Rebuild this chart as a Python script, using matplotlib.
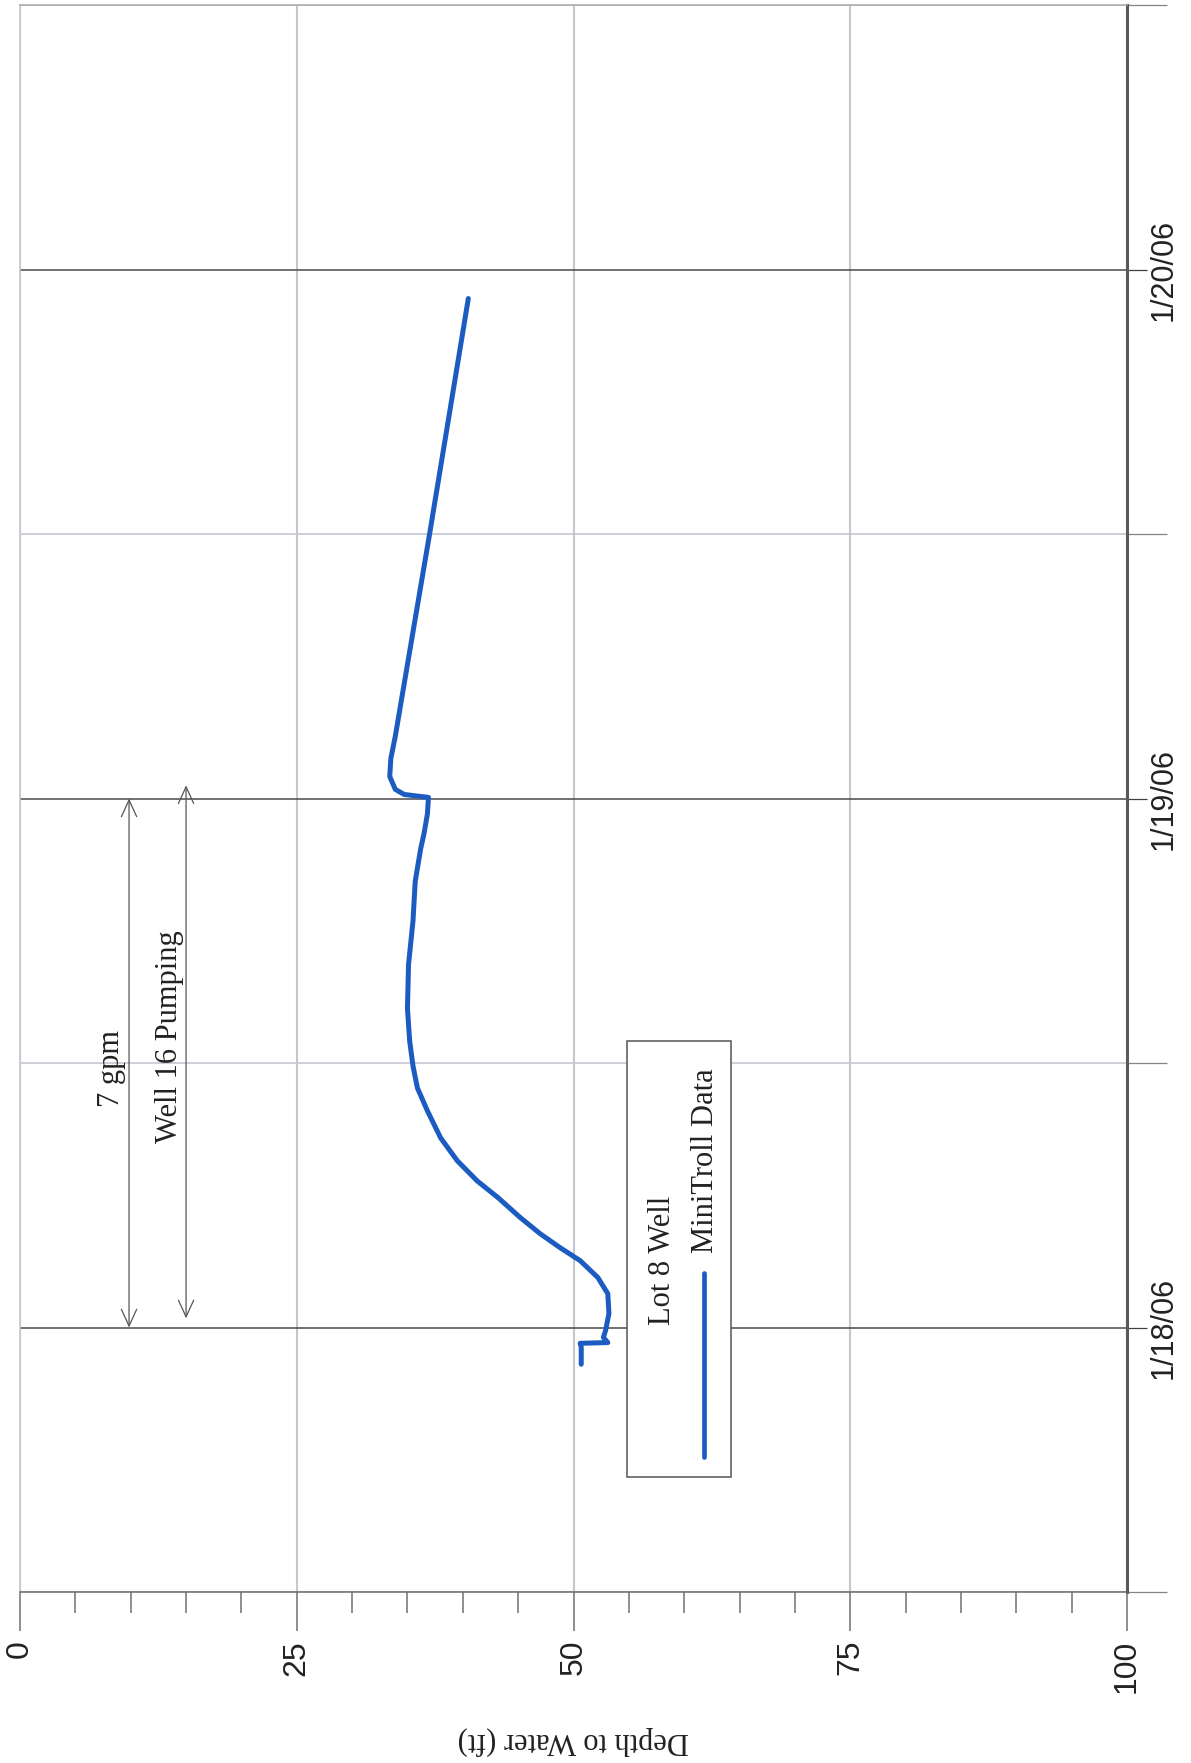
import matplotlib
matplotlib.use("Agg")
import matplotlib.pyplot as plt
import matplotlib.dates as mdates
from matplotlib.patches import Rectangle
from matplotlib.lines import Line2D
from matplotlib.ticker import FixedLocator, MultipleLocator
import pandas as pd

# MiniTroll pressure-transducer record, Lot 8 well
times = [
    "2006-01-17 22:20", "2006-01-17 23:06", "2006-01-17 23:17", "2006-01-17 23:19",
    "2006-01-17 23:33", "2006-01-17 23:52", "2006-01-18 00:38", "2006-01-18 01:32",
    "2006-01-18 02:16", "2006-01-18 03:02", "2006-01-18 03:37", "2006-01-18 04:15",
    "2006-01-18 04:59", "2006-01-18 05:53", "2006-01-18 06:39", "2006-01-18 07:34",
    "2006-01-18 08:36", "2006-01-18 09:50", "2006-01-18 10:52", "2006-01-18 11:52",
    "2006-01-18 13:00", "2006-01-18 14:29", "2006-01-18 16:29", "2006-01-18 18:26",
    "2006-01-18 20:14", "2006-01-18 21:44", "2006-01-18 22:25", "2006-01-18 23:17",
    "2006-01-19 00:03", "2006-01-19 00:11", "2006-01-19 00:25", "2006-01-19 01:00",
    "2006-01-19 01:49", "2006-01-19 02:49", "2006-01-19 06:58", "2006-01-19 12:00",
    "2006-01-19 22:41",
]
depth_ft = [
    50.7, 50.7, 50.6, 53.1,
    52.7, 52.9, 53.2, 53.1,
    52.2, 50.6, 48.8, 47.0,
    45.2, 43.2, 41.3, 39.5,
    38.0, 36.8, 35.9, 35.5,
    35.2, 35.0, 35.1, 35.5,
    35.7, 36.2, 36.5, 36.8,
    36.9, 34.7, 33.9, 33.4,
    33.5, 33.9, 35.3, 37.0,
    40.5,
]

depth_range = (0, 100)
depth_major = [0, 25, 50, 75, 100]
date_range = ("2006-01-17 12:00", "2006-01-20 12:00")
day_ticks = ["2006-01-18", "2006-01-19", "2006-01-20"]
day_labels = ["1/18/06", "1/19/06", "1/20/06"]
half_day_ticks = ["2006-01-17 12:00", "2006-01-18 12:00",
                  "2006-01-19 12:00", "2006-01-20 12:00"]

# pumping-period annotations: (depth position, start, end)
rate_span = (9.85, "2006-01-18 00:00", "2006-01-19 00:00")
pump_span = (15.0, "2006-01-18 00:25", "2006-01-19 00:36")

SERIF = ["Liberation Serif", "DejaVu Serif"]
SANS = ["Liberation Sans", "DejaVu Sans"]
NARROW = ["Liberation Sans Narrow", "Liberation Sans", "DejaVu Sans"]
BLUE = "#1c5cc2"
LIGHT = "#c3c7cf"
DARK = "#4a4a4a"


def dnum(s):
    return mdates.date2num(pd.Timestamp(s))


t = [dnum(s) for s in times]

fig = plt.figure(figsize=(11.91, 17.63), dpi=100)
ax = fig.add_axes([20 / 1191, 1 - 1592 / 1763, 1107 / 1191, 1587 / 1763])

ax.plot(depth_ft, t, color=BLUE, lw=3.6, solid_joinstyle="round",
        solid_capstyle="round", zorder=3)

ax.set_xlim(*depth_range)
ax.set_ylim(dnum(date_range[0]), dnum(date_range[1]))

# depth axis along the bottom
ax.xaxis.set_major_locator(FixedLocator(depth_major))
ax.xaxis.set_minor_locator(MultipleLocator(5))
ax.set_xticklabels([str(v) for v in depth_major], rotation=90,
                   fontsize=23, family=SANS, color="#222222")
ax.tick_params(axis="x", which="major", direction="out", length=28,
               width=1.1, color="#707070", pad=6.5)
ax.tick_params(axis="x", which="minor", direction="out", length=15,
               width=1.1, color="#707070")

# date axis along the right side
ax.yaxis.tick_right()
ax.yaxis.set_major_locator(FixedLocator([dnum(d) for d in day_ticks]))
ax.yaxis.set_minor_locator(FixedLocator([dnum(d) for d in half_day_ticks]))
ax.set_yticklabels(day_labels, rotation=90, va="center",
                   fontsize=22, family=NARROW, color="#222222")
ax.tick_params(axis="y", which="major", direction="out", length=14.4,
               width=0.9, color="#404040", pad=1.5,
               right=True, left=False)
ax.tick_params(axis="y", which="minor", direction="out", length=29,
               width=0.9, color="#858585", right=True, left=False)

ax.set_axisbelow(True)
ax.grid(axis="x", which="major", color=LIGHT, lw=1.5)
ax.grid(axis="y", which="major", color=DARK, lw=1.1)
ax.grid(axis="y", which="minor", color=LIGHT, lw=1.2)

ax.spines["left"].set_color(LIGHT)
ax.spines["left"].set_linewidth(1.2)
ax.spines["top"].set_color("#a8a8a8")
ax.spines["top"].set_linewidth(1.1)
ax.spines["right"].set_color("#5a5a5a")
ax.spines["right"].set_linewidth(2.2)
ax.spines["bottom"].set_color("#6a6a6a")
ax.spines["bottom"].set_linewidth(1.1)

ax.set_xlabel("Depth to Water (ft)", rotation=180, fontsize=22,
              family=SERIF, color="#222222")
ax.xaxis.set_label_coords(0.5, -0.0939)
ax.xaxis.label.set_va("center")

# pumping-period arrows and captions
arrow_style = "<->,head_length=1.2,head_width=0.55"
for x, a, b in (rate_span, pump_span):
    ax.annotate("", xy=(x, dnum(b)), xytext=(x, dnum(a)),
                arrowprops=dict(arrowstyle=arrow_style, color="#555555",
                                lw=0.9, shrinkA=0, shrinkB=0,
                                mutation_scale=10),
                zorder=4)
ax.text(9.6, dnum("2006-01-18 11:44"), "7 gpm", rotation=90,
        ha="right", va="center", fontsize=22, family=SERIF, color="#222222")
ax.text(14.8, dnum("2006-01-18 13:13"), "Well 16 Pumping", rotation=90,
        ha="right", va="center", fontsize=22, family=SERIF, color="#222222")

# legend box, drawn in the same turned orientation as the chart
tr = ax.transAxes
ax.add_patch(Rectangle((0.5483, 0.0725), 0.6423 - 0.5483, 0.3472 - 0.0725,
                       transform=tr, facecolor="white", edgecolor="#555555",
                       lw=1.1, zorder=5))
ax.text(0.5808, 0.1682, "Lot 8 Well", transform=tr, rotation=90,
        ha="center", va="bottom", fontsize=22, family=SERIF,
        color="#222222", zorder=6)
ax.add_line(Line2D([0.6179, 0.6179], [0.0851, 0.2010], transform=tr,
                   color=BLUE, lw=3.4, solid_capstyle="round", zorder=6))
ax.text(0.6188, 0.2136, "MiniTroll Data", transform=tr, rotation=90,
        ha="center", va="bottom", fontsize=22, family=SERIF,
        color="#222222", zorder=6)

fig.savefig("out.png", dpi=100, facecolor="white")
